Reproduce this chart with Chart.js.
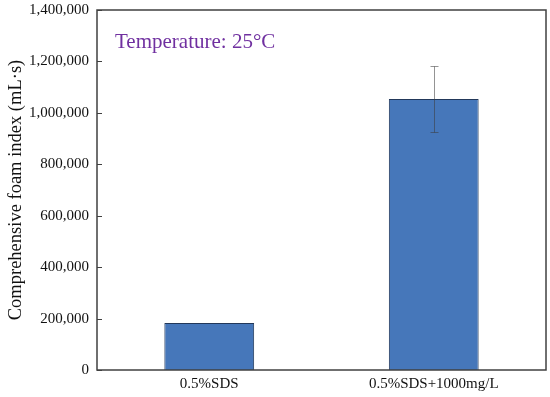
<!DOCTYPE html>
<html><head><meta charset="utf-8">
<script src="https://cdn.jsdelivr.net/npm/chart.js@4"></script>
<style>html,body{margin:0;padding:0;background:#fff}#wrap{width:550px;height:397px}</style>
</head><body><div id="wrap"><canvas id="c" width="550" height="397"></canvas></div>
<script>
const categories = ['0.5%SDS', '0.5%SDS+1000mg/L'];
const foamIndex = [183000, 1054000];
const foamError = [null, 129000];
const yTicks = [0, 200000, 400000, 600000, 800000, 1000000, 1200000, 1400000];
const annotationText = 'Temperature: 25\u00B0C';
const yTitle = 'Comprehensive foam index (mL\u00B7s)';

const FONT = "'Liberation Serif', 'Times New Roman', serif";

const decor = {
  id: 'decor',
  afterDatasetsDraw(chart) {
    const {ctx, chartArea: a, scales: {x, y}} = chart;
    ctx.save();
    // error bars
    ctx.strokeStyle = 'rgba(60,60,60,0.55)';
    ctx.lineWidth = 1;
    foamIndex.forEach((v, i) => {
      const e = foamError[i];
      if (e == null) return;
      const px = Math.round(x.getPixelForValue(i)) + 0.5;
      const t = Math.round(y.getPixelForValue(v + e)) + 0.5, b = Math.round(y.getPixelForValue(v - e)) + 0.5;
      ctx.beginPath();
      ctx.moveTo(px, t); ctx.lineTo(px, b);
      ctx.moveTo(px - 4, t); ctx.lineTo(px + 4, t);
      ctx.moveTo(px - 4, b); ctx.lineTo(px + 4, b);
      ctx.stroke();
    });
    // frame
    ctx.strokeStyle = '#404040';
    ctx.lineWidth = 1.5;
    ctx.strokeRect(a.left, a.top, a.right - a.left, a.bottom - a.top);
    // inward ticks on y axis
    ctx.lineWidth = 1;
    yTicks.forEach(v => {
      const py = Math.round(y.getPixelForValue(v)) + 0.5;
      ctx.beginPath(); ctx.moveTo(a.left, py); ctx.lineTo(a.left + 5, py); ctx.stroke();
    });
    // annotation
    ctx.fillStyle = '#7030A0';
    ctx.font = '21px ' + FONT;
    ctx.textBaseline = 'alphabetic';
    ctx.textAlign = 'left';
    ctx.fillText(annotationText, a.left + 18, 48);
    ctx.restore();
  }
};

new Chart(document.getElementById('c'), {
  type: 'bar',
  data: {
    labels: categories,
    datasets: [{
      data: foamIndex,
      backgroundColor: '#4677BA',
      borderColor: '#22385a',
      borderWidth: 1,
      barPercentage: 0.4,
      categoryPercentage: 1.0
    }]
  },
  options: {
    responsive: false,
    animation: false,
    devicePixelRatio: 1,
    layout: {padding: {left: 0, top: 10, right: 4, bottom: 0}},
    plugins: {legend: {display: false}, tooltip: {enabled: false}},
    scales: {
      x: {
        grid: {display: false, drawTicks: false},
        border: {display: false},
        ticks: {color: '#111', font: {family: FONT, size: 15}, padding: 5},
        afterFit(s) { s.height = 27; }
      },
      y: {
        min: 0, max: 1400000,
        afterBuildTicks(s) { s.ticks = yTicks.map(v => ({value: v})); },
        grid: {display: false, drawTicks: false},
        border: {display: false},
        ticks: {
          color: '#111', font: {family: FONT, size: 15}, padding: 8,
          callback: v => v.toLocaleString('en-US')
        },
        title: {display: true, text: yTitle, color: '#111', font: {family: FONT, size: 18.5}, padding: {top: 5, bottom: 0}},
        afterFit(s) { s.width = 97; s.paddingTop = 0; s.paddingBottom = 0; }
      }
    }
  },
  plugins: [decor]
});
</script></body></html>
